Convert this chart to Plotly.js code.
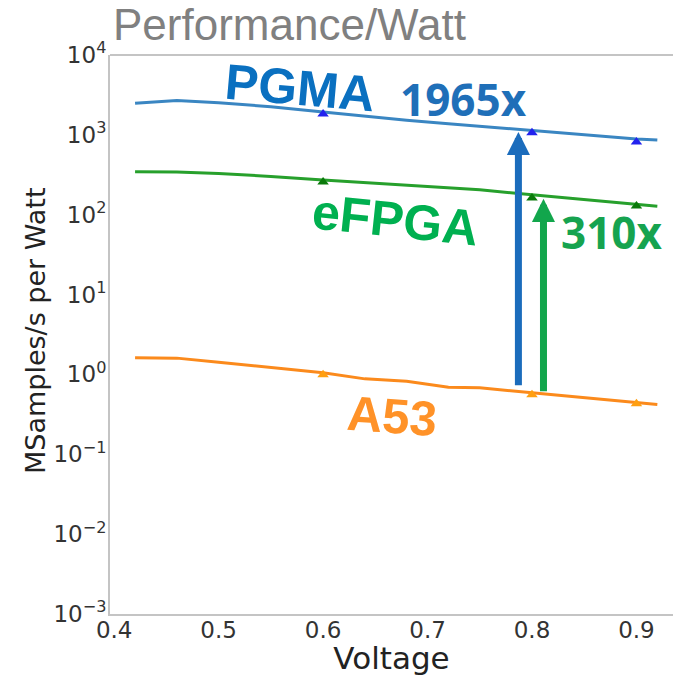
<!DOCTYPE html>
<html>
<head>
<meta charset="utf-8">
<script src="https://cdn.plot.ly/plotly-3.0.1.min.js"></script>
<style>html,body{margin:0;padding:0;background:#fff;}#chart{width:673px;height:676px;}</style>
</head>
<body>
<div id="chart"></div>
<script>
// ---- data ----
const voltage   = [0.42, 0.46, 0.50, 0.55, 0.60, 0.64, 0.68, 0.72, 0.75, 0.80, 0.85, 0.90, 0.92];
const pgmaLine  = [2480, 2700, 2520, 2250, 1930, 1700, 1520, 1380, 1280, 1130, 1000, 890, 860];
const efpgaLine = [345, 342, 328, 302, 272, 252, 235, 218, 205, 178, 155, 135, 128];
const a53Line   = [1.62, 1.60, 1.42, 1.22, 1.05, 0.88, 0.82, 0.69, 0.68, 0.59, 0.51, 0.44, 0.42];

const measuredV = [0.6, 0.8, 0.9];
const pgmaPts   = [1820, 1060, 815];
const efpgaPts  = [257, 162, 129];
const a53Pts    = [0.99, 0.556, 0.43];

const gainLabels = ["1965x", "310x"];
const arrowV     = [0.787, 0.811];
const arrowBase  = [0.70, 0.59];
const arrowTip   = [1087, 158];
const arrowColors = ["#1b6cbc", "#12a64c"];

const seriesNames = ["PGMA", "eFPGA", "A53"];

const yTickExp  = [-3, -2, -1, 0, 1, 2, 3, 4];
const yTickText = ["10<sup>−3</sup>", "10<sup>−2</sup>", "10<sup>−1</sup>", "10<sup>0</sup>",
                   "10<sup>1</sup>", "10<sup>2</sup>", "10<sup>3</sup>", "10<sup>4</sup>"];
const xTickVals = [0.4, 0.5, 0.6, 0.7, 0.8, 0.9];
const xTickText = ["0.4", "0.5", "0.6", "0.7", "0.8", "0.9"];

// ---- traces ----
function lineTrace(y, color) {
  return {x: voltage, y: y, mode: 'lines', line: {color: color, width: 3}, hoverinfo: 'skip'};
}
function markTrace(y, color) {
  return {x: measuredV, y: y, mode: 'markers', marker: {symbol: 'triangle-up', size: 10, color: color}, hoverinfo: 'skip'};
}
const data = [
  lineTrace(pgmaLine, '#3a86c2'),
  lineTrace(efpgaLine, '#27a02c'),
  lineTrace(a53Line, '#fb8a1c'),
  markTrace(pgmaPts, '#2222ee'),
  markTrace(efpgaPts, '#0a7a0a'),
  markTrace(a53Pts, '#ff9f10')
];

const L = Math.log10;
const annotations = [];
// arrows
for (let i = 0; i < arrowV.length; i++) {
  annotations.push({
    x: arrowV[i], y: L(arrowTip[i]), ax: arrowV[i], ay: L(arrowBase[i]),
    xref: 'x', yref: 'y', axref: 'x', ayref: 'y',
    text: '', showarrow: true, arrowhead: 2, arrowsize: 0.66, arrowwidth: 7,
    arrowcolor: arrowColors[i]
  });
}
// series labels
annotations.push({x: 0.578, y: L(3900), xref: 'x', yref: 'y', text: seriesNames[0], showarrow: false,
  textangle: 5, font: {family: 'Liberation Sans, Arial', size: 50, color: '#0a70c0', weight: 'bold'}});
annotations.push({x: 0.669, y: L(86), xref: 'x', yref: 'y', text: seriesNames[1], showarrow: false,
  textangle: 6, font: {family: 'Liberation Sans, Arial', size: 50, color: '#00b050', weight: 'bold'}});
annotations.push({x: 0.666, y: L(0.30), xref: 'x', yref: 'y', text: seriesNames[2], showarrow: false,
  textangle: 4, font: {family: 'Liberation Sans, Arial', size: 49, color: '#ff9228', weight: 'bold'}});
// gain labels
annotations.push({x: 0.734, y: L(2850), xref: 'x', yref: 'y', text: gainLabels[0], showarrow: false,
  font: {family: 'Open Sans', size: 44, color: '#1f6fb8', weight: 'bold'}});
annotations.push({x: 0.876, y: L(60), xref: 'x', yref: 'y', text: gainLabels[1], showarrow: false,
  font: {family: 'Open Sans', size: 44, color: '#16a34f', weight: 'bold'}});
// y axis title
annotations.push({x: (35 - 110) / 563, y: (614 - 331) / 559, xref: 'paper', yref: 'paper',
  text: 'MSamples/s per Watt', showarrow: false, textangle: -90, xanchor: 'center', yanchor: 'middle',
  font: {family: 'DejaVu Sans', size: 27, color: '#222'}});

const layout = {
  width: 673, height: 676,
  margin: {l: 110, r: 0, t: 55, b: 62},
  paper_bgcolor: '#ffffff', plot_bgcolor: '#ffffff',
  showlegend: false,
  title: {text: 'Performance/Watt', x: 113/673, xanchor: 'left', xref: 'container',
          y: 1 - 25/676, yanchor: 'middle', yref: 'container',
          font: {family: 'Liberation Sans, Arial', size: 44, color: '#808080'}},
  xaxis: {
    range: [0.396, 0.935], tickvals: xTickVals, ticktext: xTickText,
    showgrid: false, zeroline: false, ticks: '', showline: true, linecolor: '#c4c4c4', linewidth: 2,
    ticklabelstandoff: -6,
    tickfont: {family: 'DejaVu Sans', size: 23, color: '#333'},
    title: {text: 'Voltage', font: {family: 'DejaVu Sans', size: 31, color: '#222'}, standoff: 3}
  },
  yaxis: {
    type: 'log', range: [-3, 4], tickmode: 'array',
    tickvals: yTickExp.map(e => Math.pow(10, e)), ticktext: yTickText,
    showgrid: false, zeroline: false, ticks: '', showline: true, linecolor: '#c4c4c4', linewidth: 2,
    ticklabelstandoff: -3,
    tickfont: {family: 'DejaVu Sans', size: 23, color: '#333'}
  },
  shapes: [{type: 'line', xref: 'paper', yref: 'paper', x0: 0, x1: 1, y0: 1, y1: 1,
            line: {color: '#c4c4c4', width: 2}}],
  annotations: annotations
};

Plotly.newPlot('chart', data, layout, {displayModeBar: false, staticPlot: true});
</script>
</body>
</html>
